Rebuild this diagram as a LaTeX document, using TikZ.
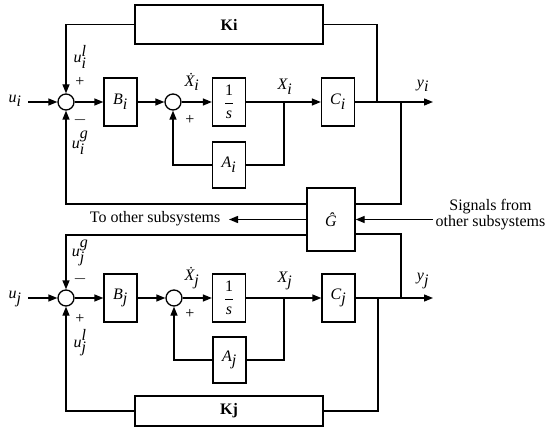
\documentclass[tikz,border=0pt]{standalone}
\usepackage{fontspec}
\setmainfont{Liberation Serif}
\usetikzlibrary{arrows.meta}
\newcommand{\vlab}[2]{$\textit{#1}_{\textit{#2}}$}
\newcommand{\vlabsup}[3]{$\textit{#1}_{\textit{#2}}^{\textit{#3}}$}
\newcommand{\frc}{$\displaystyle\frac{\mbox{1}}{\mbox{\textit{s}}}$}
\begin{document}
\begin{tikzpicture}[x=1pt,y=-1pt,
  font=\fontsize{16}{16}\selectfont, line width=1.3pt,
  >={Triangle[length=9pt,width=7pt]},
  blk/.style={draw, inner sep=0pt, minimum width=33pt, minimum height=48pt},
  sumc/.style={draw, circle, minimum size=16pt, inner sep=0pt},
  kbox/.style={draw, inner sep=0pt, minimum width=188pt},
  sgn/.style={inner sep=0pt, font=\fontsize{16}{16}\selectfont},
  lbl/.style={inner sep=0pt}]
\useasboundingbox (0,0) rectangle (548,438);
% upper subsystem
\node[kbox, minimum height=39pt] (Ki) at (229,24.5) {\textbf{Ki}};
\node[sumc] (J1) at (66,102) {};
\node[blk] (Bi) at (120.5,102) {\vlab{B}{i}};
\node[sumc] (J2) at (173,102) {};
\node[blk] (Ii) at (229,102) {\frc};
\node[blk] (Ci) at (338,102) {\vlab{C}{i}};
\node[blk, minimum height=46pt] (Ai) at (229,165) {\vlab{A}{i}};
% interconnection
\node[blk, minimum width=48pt, minimum height=63pt] (G) at (331,219.5) {\textit{\^G}};
% lower subsystem
\node[kbox, minimum height=30pt] (Kj) at (229,411) {\textbf{Kj}};
\node[sumc] (J3) at (66,298) {};
\node[blk] (Bj) at (120.5,298) {\vlab{B}{j}};
\node[sumc] (J4) at (174,298) {};
\node[blk] (Ij) at (229,298) {\frc};
\node[blk] (Cj) at (338.5,298) {\vlab{C}{j}};
\node[blk, minimum height=46pt] (Aj) at (229.5,360) {\vlab{A}{j}};
% coordinates
\coordinate (ui) at (28,102);
\coordinate (yi) at (433,102);
\coordinate (bi) at (284,102);
\coordinate (ki) at (377,102);
\coordinate (gi) at (401,102);
\coordinate (uj) at (28,298);
\coordinate (yj) at (433,298);
\coordinate (bj) at (284,298);
\coordinate (kj) at (378,298);
\coordinate (gj) at (401,298);
\coordinate (sig) at (433,219.5);
\coordinate (toth) at (229,219.5);
% upper connections
\draw[->] (ui) -- (J1);
\draw[->] (Ki.west) -| (J1.north);
\draw (Ki.east) -| (ki);
\draw[->] (J1) -- (Bi);
\draw[->] (Bi) -- (J2);
\draw[->] (J2) -- (Ii);
\draw[->] (Ii) -- (Ci);
\draw[->] (Ci) -- (yi);
\draw (bi) |- (Ai.east);
\draw[->] (Ai.west) -| (J2.south);
% G connections
\draw (gi) |- ([yshift=15.5pt]G.east);
\draw (gj) |- ([yshift=-14.5pt]G.east);
\draw[->] ([yshift=15.5pt]G.west) -| (J1.south);
\draw[->] ([yshift=-15.5pt]G.west) -| (J3.north);
\draw[->] (G.west) -- (toth);
\draw[->] (sig) -- (G.east);
% lower connections
\draw[->] (uj) -- (J3);
\draw[->] (Kj.west) -| (J3.south);
\draw (Kj.east) -| (kj);
\draw[->] (J3) -- (Bj);
\draw[->] (Bj) -- (J4);
\draw[->] (J4) -- (Ij);
\draw[->] (Ij) -- (Cj);
\draw[->] (Cj) -- (yj);
\draw (bj) |- (Aj.east);
\draw[->] (Aj.west) -| (J4.south);
% labels upper
\node[lbl] (lui) at (15,101) {\vlab{u}{i}};
\node[lbl] (luil) at (80,57) {\vlabsup{u}{i}{l}};
\node[sgn] (p1) at (80,82) {+};
\node[sgn] (m1) at (80,120) {$-$};
\node[lbl] (luig) at (80,143) {\vlabsup{u}{i}{g}};
\node[lbl] (lxdi) at (192,82) {$\textit{\.X}_{\textit{i}}$};
\node[sgn] (p2) at (190,120) {+};
\node[lbl] (lxi) at (285,87) {\vlab{X}{i}};
\node[lbl] (lyi) at (423,86) {\vlab{y}{i}};
% labels lower
\node[lbl] (luj) at (15,299) {\vlab{u}{j}};
\node[lbl] (lujg) at (80,253) {\vlabsup{u}{j}{g}};
\node[sgn] (m3) at (80,279) {$-$};
\node[sgn] (p3) at (80,319) {+};
\node[lbl] (lujl) at (80,343) {\vlabsup{u}{j}{l}};
\node[lbl] (lxdj) at (192,278) {$\textit{\.X}_{\textit{j}}$};
\node[sgn] (p4) at (190,314) {+};
\node[lbl] (lxj) at (285,281) {\vlab{X}{j}};
\node[lbl] (lyj) at (423,281) {\vlab{y}{j}};
% side texts
\node[lbl, anchor=east] (tot) at (221,219) {To other subsystems};
\node[lbl, align=center] (sg) at (490.5,215) {Signals from\\other subsystems};
\end{tikzpicture}
\end{document}
